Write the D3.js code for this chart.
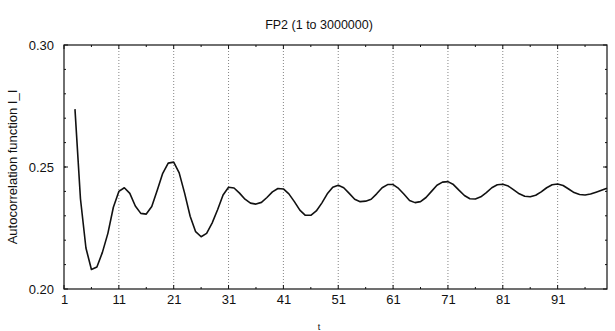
<!DOCTYPE html>
<html>
<head>
<meta charset="utf-8">
<script src="https://cdn.jsdelivr.net/npm/d3@7/dist/d3.min.js"></script>
<style>
  html, body { margin: 0; padding: 0; background: #fff; }
  svg { display: block; }
  text { font-family: "Liberation Sans", Arial, sans-serif; fill: #111; }
</style>
</head>
<body>
<svg id="chart" width="615" height="331"></svg>
<script>
// Autocorrelation of the FP2 run, lags 3..100
const lags = d3.range(3, 101);
const acf = [
  0.2737, 0.2370, 0.2168, 0.2080, 0.2090, 0.2150, 0.2228, 0.2335, 0.2400, 0.2415,
  0.2392, 0.2340, 0.2310, 0.2307, 0.2338, 0.2405, 0.2474, 0.2516, 0.2520, 0.2476,
  0.2392, 0.2298, 0.2235, 0.2214, 0.2228, 0.2270, 0.2325, 0.2385, 0.2417, 0.2414,
  0.2393, 0.2368, 0.2352, 0.2348, 0.2355, 0.2375, 0.2398, 0.2412, 0.2410, 0.2390,
  0.2358, 0.2323, 0.2302, 0.2302, 0.2320, 0.2352, 0.2390, 0.2417, 0.2425, 0.2415,
  0.2392, 0.2368, 0.2358, 0.2360, 0.2368, 0.2390, 0.2415, 0.2428, 0.2428, 0.2412,
  0.2388, 0.2363, 0.2354, 0.2358, 0.2375, 0.2400, 0.2425, 0.2438, 0.2440, 0.2428,
  0.2405, 0.2383, 0.2370, 0.2369, 0.2378, 0.2395, 0.2415, 0.2427, 0.2429, 0.2422,
  0.2406, 0.2390, 0.2380, 0.2378, 0.2384, 0.2398, 0.2415, 0.2427, 0.2430, 0.2424,
  0.2410, 0.2395, 0.2387, 0.2385, 0.2389, 0.2397, 0.2405, 0.2413
];
const xTicks = [1, 11, 21, 31, 41, 51, 61, 71, 81, 91];
const xMinorTicks = [6, 16, 26, 36, 46, 56, 66, 76, 86, 96];
const yTicks = [0.20, 0.25, 0.30];
const yMinorTicks = d3.range(21, 30).map(d => d / 100);
const titleText = "FP2 (1 to 3000000)";
const xLabel = "t";
const yLabel = "Autocorrelation function I_I";

const svg = d3.select("#chart");
const L = 64, R = 607, T = 45, B = 289;

const x = d3.scaleLinear().domain([1, 100]).range([L, R]);
const y = d3.scaleLinear().domain([0.20, 0.30]).range([B, T]);

// dotted vertical grid
svg.append("g")
  .selectAll("line")
  .data(xTicks.slice(1))
  .join("line")
  .attr("x1", d => x(d)).attr("x2", d => x(d))
  .attr("y1", T).attr("y2", B)
  .attr("stroke", "#666")
  .attr("stroke-width", 0.8)
  .attr("stroke-dasharray", "1,2");

// inward ticks on all four sides
const tickG = svg.append("g").attr("stroke", "#111").attr("stroke-width", 1);
function vTicks(vals, len) {
  vals.forEach(v => {
    tickG.append("line").attr("x1", x(v)).attr("x2", x(v)).attr("y1", B).attr("y2", B - len);
    tickG.append("line").attr("x1", x(v)).attr("x2", x(v)).attr("y1", T).attr("y2", T + len);
  });
}
function hTicks(vals, len) {
  vals.forEach(v => {
    tickG.append("line").attr("y1", y(v)).attr("y2", y(v)).attr("x1", L).attr("x2", L + len);
    tickG.append("line").attr("y1", y(v)).attr("y2", y(v)).attr("x1", R).attr("x2", R - len);
  });
}
vTicks(xTicks, 4);
vTicks(xMinorTicks, 2);
hTicks(yTicks, 4);
hTicks(yMinorTicks, 2);

// axis frame
svg.append("rect")
  .attr("x", L).attr("y", T)
  .attr("width", R - L).attr("height", B - T)
  .attr("fill", "none")
  .attr("stroke", "#111")
  .attr("stroke-width", 1.2);

// tick labels via d3 axes (lines hidden, ticks drawn above)
const xAxis = svg.append("g")
  .attr("transform", `translate(0,${B})`)
  .call(d3.axisBottom(x).tickValues(xTicks).tickSize(0).tickPadding(6).tickFormat(d3.format("d")));
xAxis.select(".domain").remove();
xAxis.selectAll("text").attr("font-size", 13).attr("font-family", "Liberation Sans, Arial, sans-serif").attr("fill", "#111");

const yAxis = svg.append("g")
  .attr("transform", `translate(${L},0)`)
  .call(d3.axisLeft(y).tickValues(yTicks).tickSize(0).tickPadding(10).tickFormat(d3.format(".2f")));
yAxis.select(".domain").remove();
yAxis.selectAll("text").attr("font-size", 13).attr("font-family", "Liberation Sans, Arial, sans-serif").attr("fill", "#111");

// the curve
const line = d3.line()
  .x((d, i) => x(lags[i]))
  .y(d => y(d));
svg.append("path")
  .datum(acf)
  .attr("d", line)
  .attr("fill", "none")
  .attr("stroke", "#111")
  .attr("stroke-width", 1.6)
  .attr("stroke-linejoin", "round");

// titles
svg.append("text")
  .attr("x", 319).attr("y", 29)
  .attr("text-anchor", "middle")
  .attr("font-size", 12.5)
  .text(titleText);

svg.append("text")
  .attr("x", 319).attr("y", 330)
  .attr("text-anchor", "middle")
  .attr("font-size", 9)
  .text(xLabel);

svg.append("text")
  .attr("transform", `translate(17,${(T + B) / 2}) rotate(-90)`)
  .attr("text-anchor", "middle")
  .attr("font-size", 13)
  .text(yLabel);
</script>
</body>
</html>
